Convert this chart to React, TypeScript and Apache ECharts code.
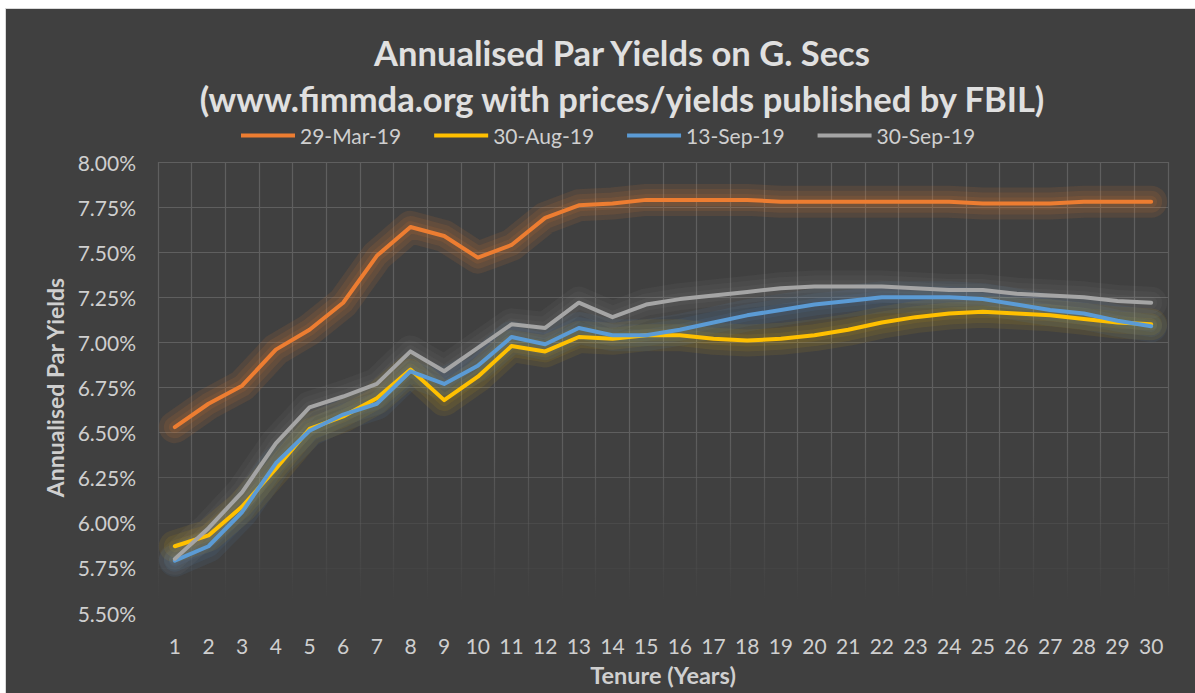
import React, { useEffect, useRef } from 'react';
import * as echarts from 'echarts';

const tenures = ['1', '2', '3', '4', '5', '6', '7', '8', '9', '10', '11', '12', '13', '14', '15', '16', '17', '18', '19', '20', '21', '22', '23', '24', '25', '26', '27', '28', '29', '30'];

const mar29 = [6.53, 6.66, 6.76, 6.96, 7.07, 7.22, 7.48, 7.64, 7.59, 7.47, 7.54, 7.69, 7.76, 7.77, 7.79, 7.79, 7.79, 7.79, 7.78, 7.78, 7.78, 7.78, 7.78, 7.78, 7.77, 7.77, 7.77, 7.78, 7.78, 7.78];
const aug30 = [5.87, 5.93, 6.09, 6.30, 6.52, 6.59, 6.69, 6.85, 6.68, 6.81, 6.98, 6.95, 7.03, 7.02, 7.04, 7.04, 7.02, 7.01, 7.02, 7.04, 7.07, 7.11, 7.14, 7.16, 7.17, 7.16, 7.15, 7.13, 7.11, 7.10];
const sep13 = [5.79, 5.87, 6.06, 6.33, 6.51, 6.60, 6.66, 6.84, 6.77, 6.87, 7.03, 6.99, 7.08, 7.04, 7.04, 7.07, 7.11, 7.15, 7.18, 7.21, 7.23, 7.25, 7.25, 7.25, 7.24, 7.21, 7.18, 7.16, 7.12, 7.09];
const sep30 = [5.80, 5.97, 6.17, 6.44, 6.64, 6.70, 6.77, 6.95, 6.84, 6.97, 7.10, 7.08, 7.22, 7.14, 7.21, 7.24, 7.26, 7.28, 7.30, 7.31, 7.31, 7.31, 7.30, 7.29, 7.29, 7.27, 7.26, 7.25, 7.23, 7.22];

const seriesNames = ['29-Mar-19', '30-Aug-19', '13-Sep-19', '30-Sep-19'];
const seriesColors = ['#ED7D31', '#FFC000', '#5B9BD5', '#A5A5A5'];
const glowRgb = ['237,125,49', '255,192,0', '91,155,213', '165,165,165'];
const glowAlpha = [0.11, 0.08, 0.08, 0.06];
const seriesData = [mar29, aug30, sep13, sep30];

const titleLine1 = 'Annualised Par Yields on G. Secs';
const titleLine2 = '(www.fimmda.org with prices/yields published by FBIL)';
const yAxisName = 'Annualised Par Yields';
const xAxisName = 'Tenure (Years)';

const FONT = 'Lato, "Open Sans", sans-serif';

export default function App() {
  const ref = useRef<HTMLDivElement>(null);
  useEffect(() => {
    document.body.style.margin = '0';
    document.body.style.overflow = 'hidden';
    const chart = echarts.init(ref.current!, undefined, { renderer: 'svg' });
    const mainSeries = seriesNames.map((name, i) => ({
      name,
      type: 'line',
      data: seriesData[i],
      symbol: 'none',
      color: seriesColors[i],
      lineStyle: { width: 4, color: seriesColors[i], cap: 'round', join: 'round' },
      z: 10 + i,
    }));
    const glowWidths = [12, 22, 32];
    const glowSeries: any[] = [];
    glowWidths.forEach((w) => {
      seriesNames.forEach((name, i) => {
        glowSeries.push({
          name,
          type: 'line',
          data: seriesData[i],
          symbol: 'none',
          silent: true,
          color: seriesColors[i],
          lineStyle: {
            width: w,
            color: `rgba(${glowRgb[i]},${glowAlpha[i]})`,
            cap: 'round',
            join: 'round',
          },
          z: 3,
        });
      });
    });
    const option: any = {
      animation: false,
      backgroundColor: '#404040',
      textStyle: { fontFamily: FONT },
      graphic: [
        {
          type: 'text', x: 616, y: 43,
          style: { text: titleLine1, fill: '#e0e0e0', font: `bold 34.5px ${FONT}`, textAlign: 'center', textVerticalAlign: 'middle' },
        },
        {
          type: 'text', x: 616, y: 89,
          style: { text: titleLine2, fill: '#e0e0e0', font: `bold 34.5px ${FONT}`, textAlign: 'center', textVerticalAlign: 'middle' },
        },
      ],
      legend: {
        left: 235,
        top: 116,
        padding: 0,
        itemGap: 33,
        itemWidth: 54,
        itemHeight: 4,
        icon: 'rect',
        textStyle: { color: '#cfcfcf', fontSize: 21, fontFamily: FONT },
        data: seriesNames,
      },
      grid: { left: 152, right: 27, top: 153, bottom: 80 },
      xAxis: {
        type: 'category',
        data: tenures,
        boundaryGap: true,
        name: xAxisName,
        nameLocation: 'middle',
        nameGap: 50,
        nameTextStyle: { color: '#cfcfcf', fontSize: 23.5, fontWeight: 'bold', fontFamily: FONT },
        axisLine: { show: false },
        axisTick: { show: false },
        axisLabel: { color: '#cfcfcf', fontSize: 21, margin: 22, interval: 0, fontFamily: FONT },
        splitLine: {
          show: true,
          interval: 0,
          lineStyle: {
            width: 1.2,
            color: new echarts.graphic.LinearGradient(0, 153, 0, 604, [
              { offset: 0, color: 'rgba(95,95,95,1)' },
              { offset: 0.6, color: 'rgba(95,95,95,1)' },
              { offset: 0.97, color: 'rgba(95,95,95,0)' },
              { offset: 1, color: 'rgba(95,95,95,0)' },
            ], true),
          },
        },
      },
      yAxis: {
        type: 'value',
        min: 5.5,
        max: 8,
        interval: 0.25,
        name: yAxisName,
        nameLocation: 'middle',
        nameGap: 92,
        nameTextStyle: { color: '#cfcfcf', fontSize: 23, fontWeight: 'bold', fontFamily: FONT },
        axisLine: { show: false },
        axisTick: { show: false },
        axisLabel: {
          color: '#cfcfcf', fontSize: 21, margin: 22, fontFamily: FONT,
          formatter: (v: number) => v.toFixed(2) + '%',
        },
        splitLine: {
          show: true,
          lineStyle: {
            width: 1.2,
            color: [
              'rgba(95,95,95,0)', 'rgba(95,95,95,0.12)', 'rgba(95,95,95,0.35)', 'rgba(95,95,95,0.7)',
              'rgba(95,95,95,1)', 'rgba(95,95,95,1)', 'rgba(95,95,95,1)', 'rgba(95,95,95,1)',
              'rgba(95,95,95,1)', 'rgba(95,95,95,1)', 'rgba(95,95,95,1)',
            ],
          },
        },
      },
      series: [...mainSeries, ...glowSeries],
    };
    chart.setOption(option);
    return () => chart.dispose();
  }, []);
  return (
    <div style={{ position: 'absolute', left: 5, top: 8, borderTop: '1px solid #d9d9d9', borderLeft: '1px solid #d9d9d9', background: '#404040' }}>
      <div ref={ref} style={{ width: 1189, height: 684 }} />
    </div>
  );
}
